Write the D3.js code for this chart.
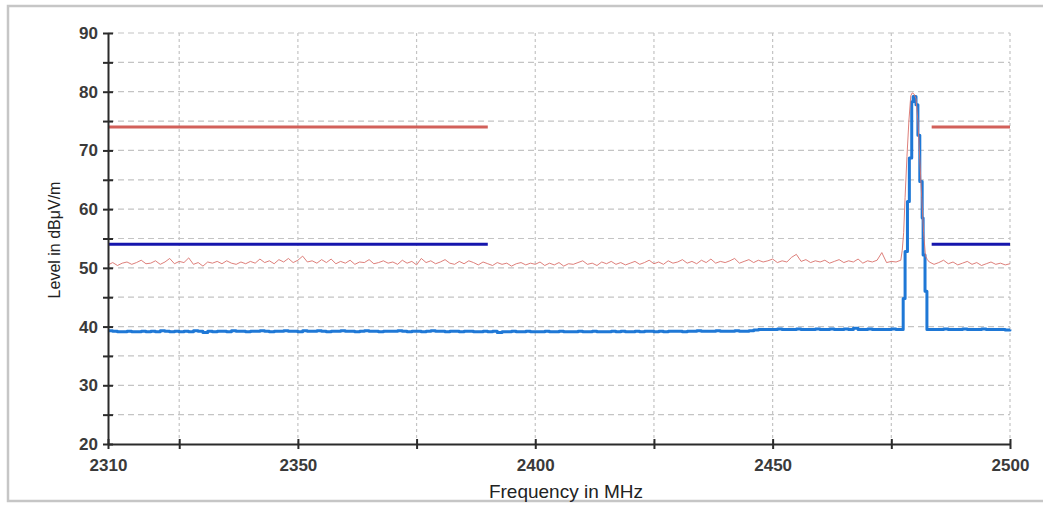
<!DOCTYPE html>
<html>
<head>
<meta charset="utf-8">
<script src="https://cdn.jsdelivr.net/npm/d3@7"></script>
<style>
  html, body { margin: 0; padding: 0; background: #fff; }
  svg { display: block; }
</style>
</head>
<body>
<svg id="chart" width="1043" height="506"></svg>
<script>
// Sweep 2310..2476 MHz, 1 MHz steps: peak detector (red) and average detector (blue)
const sweepLeftStart = 2310;
const peakLeft = [
  50.5, 50.9, 50.4, 50.8, 51.0, 50.6, 50.9, 51.3, 50.7, 50.8,
  51.2, 50.6, 51.0, 51.6, 50.7, 51.1, 50.9, 51.7, 50.6, 50.9,
  50.3, 51.0, 50.8, 51.1, 50.7, 51.2, 50.8, 50.6, 51.0, 50.7,
  51.1, 50.8, 51.5, 50.9, 51.2, 50.7, 51.4, 51.0, 51.6, 50.9,
  51.3, 52.0, 51.0, 51.2, 50.8, 51.4, 50.9, 51.5, 50.7, 51.1,
  50.8, 51.3, 50.6, 51.0, 50.9, 51.4, 50.7, 50.9, 51.2, 50.8,
  51.0, 50.6, 51.3, 50.8, 51.1, 50.5, 51.6, 50.9, 51.2, 50.7,
  51.0, 51.4, 50.8, 50.6, 51.1, 50.7, 51.2, 50.9, 50.5, 51.0,
  50.7, 50.4, 50.9, 50.6, 50.8, 50.3, 50.7, 50.9, 50.5, 50.8,
  50.6, 51.0, 50.4, 50.8, 50.5, 50.9, 50.3, 50.7, 50.6, 50.9,
  51.2, 50.6, 50.8, 50.4, 51.0, 50.7, 51.1, 50.6, 50.9, 50.5,
  50.8, 51.1, 50.6, 50.9, 51.3, 50.7, 51.0, 50.6, 51.2, 50.8,
  51.0, 51.4, 50.8, 51.1, 50.7, 51.3, 50.9, 51.5, 50.8, 51.1,
  50.9, 51.2, 51.6, 50.8, 51.1, 51.4, 50.9, 51.3, 51.0, 51.2,
  51.5, 50.9, 51.2, 51.0, 51.8, 52.3, 51.1, 51.4, 50.9, 51.2,
  51.0, 51.3, 50.8, 51.1, 51.4, 50.9, 51.2, 51.0, 51.5, 50.8,
  51.2, 51.0, 51.3, 52.6, 50.9, 51.1, 51.0
];
const avgLeft = [
  39.3, 39.2, 39.1, 39.1, 39.2, 39.1, 39.1, 39.2, 39.1, 39.2,
  39.1, 39.3, 39.2, 39.1, 39.2, 39.1, 39.2, 39.1, 39.3, 39.2,
  39.0, 39.2, 39.1, 39.2, 39.2, 39.1, 39.3, 39.2, 39.2, 39.1,
  39.2, 39.2, 39.3, 39.2, 39.1, 39.2, 39.2, 39.3, 39.2, 39.2,
  39.1, 39.3, 39.2, 39.2, 39.3, 39.2, 39.1, 39.2, 39.2, 39.3,
  39.2, 39.2, 39.1, 39.2, 39.3, 39.2, 39.2, 39.1, 39.2, 39.2,
  39.2, 39.3, 39.2, 39.1, 39.2, 39.2, 39.1, 39.2, 39.3, 39.2,
  39.2, 39.1, 39.2, 39.2, 39.1, 39.2, 39.2, 39.1, 39.1, 39.2,
  39.1, 39.2, 39.0, 39.1, 39.1, 39.2, 39.1, 39.1, 39.2, 39.1,
  39.1, 39.1, 39.2, 39.1, 39.1, 39.2, 39.1, 39.1, 39.1, 39.2,
  39.1, 39.1, 39.2, 39.1, 39.1, 39.1, 39.2, 39.1, 39.2, 39.1,
  39.1, 39.2, 39.1, 39.2, 39.2, 39.1, 39.2, 39.1, 39.2, 39.2,
  39.2, 39.1, 39.2, 39.2, 39.3, 39.2, 39.2, 39.2, 39.3, 39.2,
  39.2, 39.2, 39.3, 39.2, 39.2, 39.3, 39.4, 39.5, 39.5, 39.5,
  39.5, 39.6, 39.5, 39.5, 39.5, 39.6, 39.5, 39.5, 39.5, 39.6,
  39.5, 39.5, 39.6, 39.5, 39.5, 39.6, 39.5, 39.7, 39.5, 39.5,
  39.6, 39.5, 39.5, 39.5, 39.5, 39.6, 39.5
];

// Carrier at ~2480 MHz, finer frequency resolution
const peakCarrierFreq = [2477.0, 2477.3, 2477.6, 2477.9, 2478.3, 2478.7, 2479.1, 2479.4,
                         2479.8, 2480.2, 2480.6, 2481.0, 2481.4, 2481.8, 2482.2, 2482.6];
const peakCarrier     = [51.3, 53.0, 56.0, 62.0, 69.0, 75.0, 79.3, 79.8,
                         79.6, 78.8, 75.0, 68.5, 62.0, 56.0, 52.0, 51.4];
const avgCarrierFreq  = [2477.0, 2477.5, 2477.9, 2478.4, 2478.8, 2479.3, 2479.6,
                         2480.2, 2480.6, 2481.0, 2481.5, 2481.7, 2482.1, 2482.5];
const avgCarrier      = [39.5, 44.8, 52.8, 61.3, 68.7, 78.3, 79.2,
                         77.8, 72.6, 64.7, 58.5, 52.2, 46.0, 39.5];

// Sweep 2483..2500 MHz, 1 MHz steps
const sweepRightStart = 2483;
const peakRight = [51.0, 50.6, 50.9, 51.3, 50.7, 51.0, 50.5, 50.8, 51.1,
                   50.6, 50.9, 50.4, 50.7, 51.0, 50.6, 50.8, 50.5, 50.7];
const avgRight  = [39.5, 39.5, 39.5, 39.6, 39.5, 39.5, 39.5, 39.6, 39.5,
                   39.5, 39.5, 39.6, 39.5, 39.5, 39.5, 39.5, 39.4, 39.5];

// Restricted-band limits (outside 2390..2483.5 MHz)
const limitSegments = [[2310, 2390], [2483.5, 2500]];
const peakLimit = 74;
const avgLimit = 54;

// Axes
const xDomain = [2310, 2500];
const yDomain = [20, 90];
const xLabelTicks = [2310, 2350, 2400, 2450, 2500];
const xMinorTicks = [2325, 2375, 2425, 2475];
const yLabelTicks = [20, 30, 40, 50, 60, 70, 80, 90];
const yMinorTicks = [25, 35, 45, 55, 65, 75, 85];
const xTitle = "Frequency in MHz";
const yTitle = "Level in dBμV/m";

const svg = d3.select("#chart");
const plot = { left: 108, right: 1010, top: 33, bottom: 444 };
const font = "Liberation Sans, Arial, sans-serif";

const x = d3.scaleLinear().domain(xDomain).range([plot.left, plot.right]);
const y = d3.scaleLinear().domain(yDomain).range([plot.bottom, plot.top]);

// outer frame
svg.append("rect")
  .attr("x", 8).attr("y", 6).attr("width", 1045).attr("height", 495)
  .attr("fill", "#fff").attr("stroke", "#c6c6c6").attr("stroke-width", 2.5);

// grid
const grid = svg.append("g");
grid.selectAll("line.h")
  .data(yLabelTicks.concat(yMinorTicks).filter(v => v !== 20))
  .join("line")
  .attr("x1", plot.left).attr("x2", plot.right)
  .attr("y1", d => y(d)).attr("y2", d => y(d))
  .attr("stroke", "#c4c4c4").attr("stroke-width", 1.2)
  .attr("stroke-dasharray", "6,4");
grid.selectAll("line.v")
  .data(xLabelTicks.concat(xMinorTicks).filter(v => v !== 2310))
  .join("line")
  .attr("x1", d => x(d)).attr("x2", d => x(d))
  .attr("y1", plot.top).attr("y2", plot.bottom)
  .attr("stroke", "#c4c4c4").attr("stroke-width", 1.2)
  .attr("stroke-dasharray", "3,3");

// limit lines
const limits = svg.append("g");
limits.selectAll("line.pk")
  .data(limitSegments).join("line")
  .attr("x1", d => x(d[0])).attr("x2", d => x(d[1]))
  .attr("y1", y(peakLimit)).attr("y2", y(peakLimit))
  .attr("stroke", "#d2605a").attr("stroke-width", 3);
limits.selectAll("line.av")
  .data(limitSegments).join("line")
  .attr("x1", d => x(d[0])).attr("x2", d => x(d[1]))
  .attr("y1", y(avgLimit)).attr("y2", y(avgLimit))
  .attr("stroke", "#1616ad").attr("stroke-width", 3);

// build traces
const peakTrace = peakLeft.map((v, i) => [sweepLeftStart + i, v])
  .concat(peakCarrierFreq.map((f, i) => [f, peakCarrier[i]]))
  .concat(peakRight.map((v, i) => [sweepRightStart + i, v]));
const avgTrace = avgLeft.map((v, i) => [sweepLeftStart + i, v])
  .concat(avgCarrierFreq.map((f, i) => [f, avgCarrier[i]]))
  .concat(avgRight.map((v, i) => [sweepRightStart + i, v]));

svg.append("path")
  .datum(avgTrace)
  .attr("fill", "none").attr("stroke", "#1f78d6").attr("stroke-width", 3)
  .attr("stroke-linejoin", "round")
  .attr("d", d3.line().x(d => x(d[0])).y(d => y(d[1])).curve(d3.curveStepAfter));

svg.append("path")
  .datum(peakTrace)
  .attr("fill", "none").attr("stroke", "#d9716c").attr("stroke-width", 1)
  .attr("stroke-opacity", 0.9)
  .attr("d", d3.line().x(d => x(d[0])).y(d => y(d[1])));

// axes
const axisColor = "#2b2b2b";
const xAxis = svg.append("g").attr("transform", `translate(0,${plot.bottom})`)
  .call(d3.axisBottom(x).tickValues(xLabelTicks.concat(xMinorTicks))
    .tickSize(0).tickFormat(d => xLabelTicks.includes(d) ? d : ""));
xAxis.select(".domain").attr("stroke", axisColor).attr("stroke-width", 2);
xAxis.selectAll(".tick line").remove();
xAxis.selectAll(".tick").append("line")
  .attr("y1", -5).attr("y2", 5).attr("stroke", axisColor).attr("stroke-width", 2);
xAxis.selectAll(".tick text")
  .attr("y", 15).attr("dy", "0.71em")
  .attr("font-family", font)
  .attr("font-size", 17).attr("font-weight", "bold").attr("fill", "#3a3a3a");

const yAxis = svg.append("g").attr("transform", `translate(${plot.left},0)`)
  .call(d3.axisLeft(y).tickValues(yLabelTicks.concat(yMinorTicks))
    .tickSize(0).tickFormat(d => yLabelTicks.includes(d) ? d : ""));
yAxis.select(".domain").attr("stroke", axisColor).attr("stroke-width", 2);
yAxis.selectAll(".tick line").remove();
yAxis.selectAll(".tick").append("line")
  .attr("x1", -5).attr("x2", 5).attr("stroke", axisColor).attr("stroke-width", 2);
yAxis.selectAll(".tick text")
  .attr("x", -10)
  .attr("font-family", font)
  .attr("font-size", 17).attr("font-weight", "bold").attr("fill", "#3a3a3a");

// titles
svg.append("text")
  .attr("x", 566).attr("y", 498)
  .attr("text-anchor", "middle")
  .attr("font-family", font)
  .attr("font-size", 19).attr("fill", "#222")
  .text(xTitle);
svg.append("text")
  .attr("transform", `translate(60,240) rotate(-90)`)
  .attr("text-anchor", "middle")
  .attr("font-family", font)
  .attr("font-size", 16).attr("fill", "#222")
  .text(yTitle);
</script>
</body>
</html>
